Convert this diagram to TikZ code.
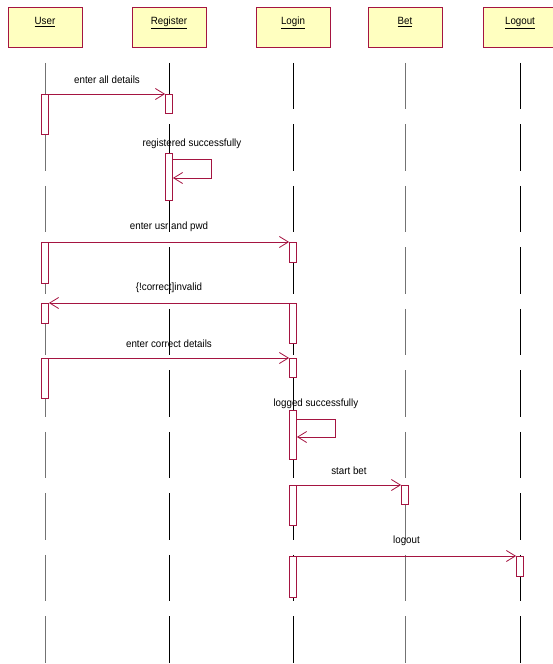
\documentclass[tikz,border=0pt]{standalone}
\usepackage{fontspec}
\setmainfont{Liberation Sans}[FakeStretch=0.93]
\usetikzlibrary{arrows.meta,positioning}

\definecolor{umlred}{RGB}{165,20,65}
\definecolor{umlfill}{RGB}{255,255,192}
\tikzset{
  objbox/.style={draw=umlred,fill=umlfill,line width=0.8pt,anchor=north,minimum width=74pt,
    inner ysep=3pt,text height=14pt,text depth=20pt},
  lifeline/.style={line width=0.8pt,dash pattern=on 46.5pt off 15pt,dash phase=46.5pt},
  act/.style={draw=umlred,fill=white,line width=0.8pt,anchor=north,minimum width=7pt,
    inner sep=0pt,minimum height=#1},
  msg/.style={draw=umlred,line width=0.8pt,-{Straight Barb[length=9pt,width=11pt]}},
  msglabel/.style={above=6.5pt,inner sep=3.5pt}
}

\begin{document}
\begin{tikzpicture}[x=1pt,y=-1pt,every node/.style={font=\fontsize{10.5}{12}\selectfont}]
  \useasboundingbox (0,0) rectangle (553,664);
  \clip (0,0) rectangle (553,664);
  % objects
  \node[objbox] (user) at (45,7) {\underline{User}};
  \node[objbox] (register) at (169,7) {\underline{Register}};
  \node[objbox] (login) at (293,7) {\underline{Login}};
  \node[objbox] (bet) at (405,7) {\underline{Bet}};
  \node[objbox] (logout) at (520,7) {\underline{Logout}};
  % lifelines
  \draw[lifeline,black!55] (user.south) -- (user.south |- 0,664);
  \draw[lifeline] (register.south) -- (register.south |- 0,664);
  \draw[lifeline] (login.south) -- (login.south |- 0,664);
  \draw[lifeline,black!55] (bet.south) -- (bet.south |- 0,664);
  \draw[lifeline] (logout.south) -- (logout.south |- 0,664);
  % activations
  \node[act=40] (ua1) at (45,94) {};
  \node[act=41] (ua2) at (45,242) {};
  \node[act=20] (ua3) at (45,303) {};
  \node[act=40] (ua4) at (45,358) {};
  \node[act=19] (ra1) at (169,94) {};
  \node[act=47] (ra2) at (169,153) {};
  \node[act=20] (la1) at (293,242) {};
  \node[act=40] (la2) at (293,303) {};
  \node[act=19] (la3) at (293,358) {};
  \node[act=49] (la4) at (293,410) {};
  \node[act=40] (la5) at (293,485) {};
  \node[act=41] (la6) at (293,556) {};
  \node[act=19] (ba1) at (405,485) {};
  \node[act=20] (oa1) at (520,556) {};
  % messages
  \draw[msg] (ua1.north east) -- node[msglabel] {enter all details} (ra1.north west);
  \draw[msg] ([yshift=-6pt]ra2.north east) -- node[msglabel] {registered successfully} ++(38,0)
    |- ([yshift=-25pt]ra2.north east);
  \draw[msg] (ua2.north east) -- node[msglabel] {enter usr and pwd} (la1.north west);
  \draw[msg] (la2.north west) -- node[msglabel] {\{!correct]invalid} (ua3.north east);
  \draw[msg] (ua4.north east) -- node[msglabel] {enter correct details} (la3.north west);
  \draw[msg] ([yshift=-9pt]la4.north east) -- node[msglabel] {logged successfully} ++(38,0)
    |- ([yshift=-27pt]la4.north east);
  \draw[msg] (la5.north east) -- node[msglabel] {start bet} (ba1.north west);
  \draw[msg] (la6.north east) -- node[msglabel] {logout} (oa1.north west);
\end{tikzpicture}
\end{document}
